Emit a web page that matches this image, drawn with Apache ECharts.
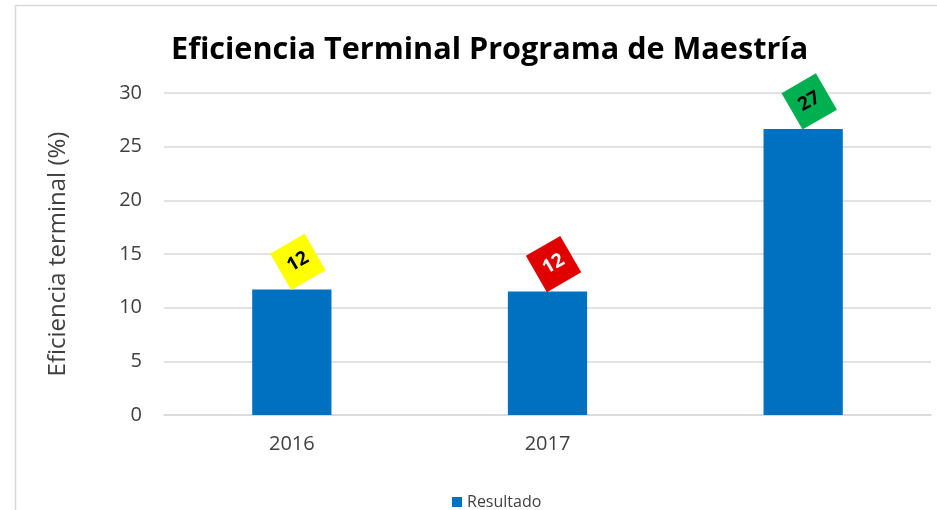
<!DOCTYPE html>
<html><head><meta charset="utf-8">
<script src="https://cdn.jsdelivr.net/npm/echarts@6/dist/echarts.min.js"></script>
<style>html,body{margin:0;padding:0;background:#fff}#c{width:937px;height:510px}</style>
</head><body><div id="c"></div>
<script>
const categories = ['2016', '2017', ''];
const resultado = [11.7, 11.5, 26.65];
const yTicks = [0, 5, 10, 15, 20, 25, 30];
const labelBg = ['#FFFF00', '#E00000', '#00B050'];
const labelFg = ['#000000', '#FFFFFF', '#000000'];

const chart = echarts.init(document.getElementById('c'));
const FONT = 'Open Sans';
chart.setOption({
  animation: false,
  backgroundColor: '#ffffff',
  textStyle: { fontFamily: FONT },
  graphic: [{
    type: 'rect', silent: true,
    shape: { x: 15.5, y: 5.5, width: 1000, height: 1000 },
    style: { fill: 'none', stroke: '#d9d9d9', lineWidth: 1.5 }
  }],
  title: {
    text: 'Eficiencia Terminal Programa de Maestría',
    left: 166, top: 30,
    textStyle: { fontFamily: FONT, fontSize: 30.6, fontWeight: 'bold', color: '#000' }
  },
  grid: { left: 164, right: 6, top: 93, bottom: 95 },
  legend: {
    data: ['Resultado'], left: 447, top: 489,
    itemWidth: 10, itemHeight: 10, itemGap: 4, icon: 'rect',
    textStyle: { fontFamily: FONT, fontSize: 16, color: '#404040' }
  },
  xAxis: {
    type: 'category', data: categories,
    axisLine: { lineStyle: { color: '#d9d9d9', width: 1.5 } },
    axisTick: { show: false },
    axisLabel: { fontFamily: FONT, fontSize: 20, color: '#404040', margin: 19 }
  },
  yAxis: {
    type: 'value', min: yTicks[0], max: yTicks[yTicks.length - 1], interval: yTicks[1] - yTicks[0],
    name: 'Eficiencia terminal (%)', nameLocation: 'middle', nameGap: 94,
    nameTextStyle: { fontFamily: FONT, fontSize: 24, color: '#404040' },
    axisLine: { show: false }, axisTick: { show: false },
    axisLabel: { fontFamily: FONT, fontSize: 20, color: '#404040', margin: 22 },
    splitLine: { lineStyle: { color: '#d9d9d9', width: 1.5 } }
  },
  series: [{
    name: 'Resultado', type: 'bar', barWidth: '31%',
    itemStyle: { color: '#0070C0' },
    data: resultado.map((v, i) => ({
      value: v,
      label: {
        show: true, position: 'top', distance: 24, rotate: 30,
        align: 'center', verticalAlign: 'middle', offset: [7, 0],
        formatter: p => String(Math.round(p.value)),
        fontFamily: FONT, fontSize: 19, fontWeight: 'bold', lineHeight: 20,
        color: labelFg[i], backgroundColor: labelBg[i], padding: [11, 9]
      }
    }))
  }]
});
</script></body></html>
